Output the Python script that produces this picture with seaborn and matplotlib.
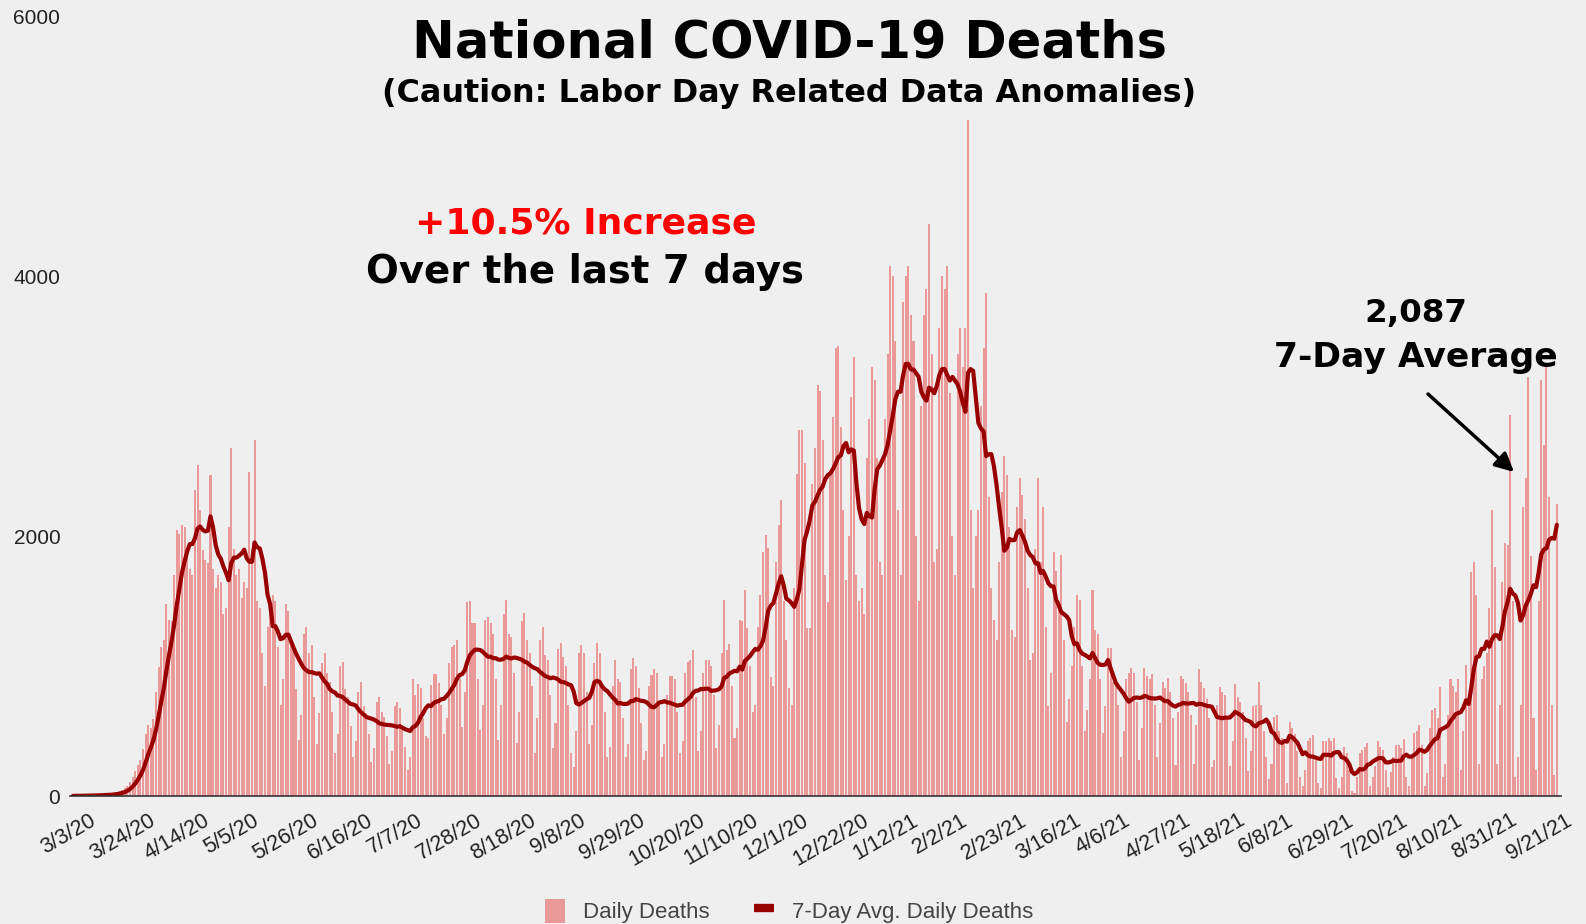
import numpy as np
import pandas as pd
import matplotlib
matplotlib.use("Agg")
import matplotlib.pyplot as plt
import matplotlib.transforms as mtransforms
import seaborn as sns
from matplotlib.patches import Patch
from matplotlib.lines import Line2D

# daily reported deaths, one row per week, starting 3/3/20
daily_deaths = [
    1, 1, 2, 3, 4, 3, 5,
    4, 5, 6, 8, 9, 10, 11,
    12, 15, 20, 28, 35, 45, 60,
    80, 110, 150, 190, 240, 280, 360,
    480, 545, 520, 590, 800, 995, 1150,
    1200, 1480, 1355, 1350, 1700, 2045, 2020,
    2085, 2070, 1900, 1750, 1700, 2355, 2545,
    2200, 1890, 1815, 1790, 2470, 1750, 1600,
    1700, 1650, 1400, 1450, 2070, 2675, 1900,
    1700, 1750, 1525, 1650, 1600, 2495, 1900,
    2740, 1500, 1450, 1100, 850, 1300, 1400,
    1550, 1500, 1150, 700, 900, 1480, 1420,
    1200, 1150, 820, 430, 620, 1250, 1300,
    1100, 1160, 760, 400, 640, 1020, 1100,
    950, 880, 650, 330, 480, 1000, 1030,
    820, 760, 540, 300, 420, 800, 880,
    690, 640, 480, 260, 370, 720, 760,
    650, 610, 460, 250, 350, 690, 720,
    680, 530, 380, 200, 300, 900, 780,
    860, 835, 600, 460, 450, 855, 940,
    940, 870, 700, 480, 600, 1025, 1150,
    1160, 1200, 900, 530, 800, 1495, 1500,
    1330, 1330, 900, 510, 700, 1353, 1380,
    1330, 1250, 900, 430, 700, 1400, 1507,
    1250, 1225, 950, 410, 650, 1350, 1405,
    1200, 1100, 850, 330, 600, 1200, 1300,
    1085, 1050, 780, 370, 560, 1130, 1180,
    1070, 1000, 700, 330, 225, 500, 1100,
    1160, 1100, 800, 400, 550, 1020, 1175,
    1100, 850, 650, 300, 380, 850, 1050,
    900, 880, 600, 300, 400, 980, 1060,
    1000, 830, 560, 280, 350, 850, 930,
    980, 950, 700, 300, 400, 780, 920,
    920, 900, 650, 330, 420, 950, 1033,
    1050, 1120, 760, 350, 500, 950, 1050,
    1050, 1000, 780, 370, 550, 1100, 1507,
    1120, 1170, 850, 450, 520, 1353, 1350,
    1585, 1290, 1000, 650, 700, 1300, 1545,
    1880, 2007, 1905, 917, 850, 1800, 2085,
    2275, 1500, 1200, 830, 700, 1600, 2480,
    2815, 2815, 2560, 1290, 1290, 2400, 2675,
    3160, 3120, 2740, 1700, 1495, 2500, 2915,
    3445, 3460, 2840, 2200, 1660, 2000, 3070,
    3380, 1700, 1500, 1600, 1400, 2600, 2900,
    3300, 3200, 2600, 1800, 1700, 2900, 3400,
    4080, 4000, 3500, 2200, 1700, 3800, 4000,
    4080, 3700, 3500, 2000, 1500, 3000, 3700,
    3900, 4400, 3400, 1800, 1900, 3600, 4000,
    3900, 4080, 3100, 2000, 1700, 3400, 3600,
    3300, 3600, 5200, 2200, 1600, 2000, 2200,
    3000, 3445, 3870, 2300, 1600, 1353, 1200,
    1800, 2340, 2620, 2470, 2070, 1275, 1220,
    2225, 2445, 2320, 2130, 1600, 1045, 1100,
    1900, 2445, 1800, 2225, 1300, 690, 945,
    1880, 1730, 1500, 1855, 1200, 570, 750,
    1000, 1300, 1545, 1510, 1000, 500, 660,
    900, 1585, 1275, 1250, 900, 485, 690,
    1140, 1140, 880, 850, 700, 300, 500,
    900, 950, 985, 950, 720, 280, 520,
    985, 920, 900, 940, 700, 300, 560,
    880, 830, 905, 800, 600, 240, 650,
    920, 900, 870, 800, 620, 250, 550,
    980, 880, 830, 750, 600, 220, 280,
    700, 840, 800, 780, 600, 230, 420,
    860, 760, 720, 650, 450, 190, 350,
    690, 700, 880, 700, 500, 300, 130,
    250, 610, 620, 500, 450, 400, 100,
    570, 520, 480, 350, 150, 80, 200,
    420, 450, 470, 300, 100, 60, 420,
    420, 450, 420, 450, 140, 60, 150,
    380, 330, 200, 40, 20, 150, 330,
    355, 380, 410, 80, 150, 230, 420,
    380, 354, 200, 72, 187, 300, 392,
    392, 369, 438, 148, 80, 300, 484,
    500, 546, 392, 80, 180, 520, 661,
    680, 600, 840, 150, 250, 620, 900,
    850, 800, 900, 200, 500, 1007, 700,
    1725, 1800, 1545, 250, 900, 1000, 1100,
    1445, 2200, 1763, 250, 700, 1648, 1945,
    1930, 2930, 1500, 150, 300, 700, 2225,
    2450, 3225, 1850, 600, 200, 1500, 3200,
    2700, 3300, 2300, 700, 160, 2250,
]

# category labels shown on the x axis (every 21st day)
tick_labels = ['3/3/20', '3/24/20', '4/14/20', '5/5/20', '5/26/20', '6/16/20',
               '7/7/20', '7/28/20', '8/18/20', '9/8/20', '9/29/20', '10/20/20',
               '11/10/20', '12/1/20', '12/22/20', '1/12/21', '2/2/21', '2/23/21',
               '3/16/21', '4/6/21', '4/27/21', '5/18/21', '6/8/21', '6/29/21',
               '7/20/21', '8/10/21', '8/31/21', '9/21/21']
y_ticks = [0, 2000, 4000, 6000]

bar_color = '#ea9999'
line_color = '#990000'
bg = '#efefef'

W, H = 1586, 924


def fx(x):
    return x / W


def fy(y):
    return 1 - y / H


df = pd.DataFrame({'day': np.arange(len(daily_deaths)), 'deaths': daily_deaths})
df['avg'] = df['deaths'].rolling(7, min_periods=1).mean()

sns.set_theme(style='white')
plt.rcParams['font.family'] = ['Liberation Sans', 'DejaVu Sans']

fig = plt.figure(figsize=(W / 100, H / 100), dpi=100, facecolor=bg)
ax = fig.add_axes([fx(70), fy(796), fx(1561) - fx(70), fy(16.4) - fy(796)])
ax.set_facecolor(bg)

sns.barplot(data=df, x='day', y='deaths', native_scale=True, color=bar_color,
            saturation=1, width=0.78, errorbar=None, linewidth=0, ax=ax)
sns.lineplot(data=df, x='day', y='avg', color=line_color, linewidth=3.0, ax=ax)

ax.set_xlim(-1.157, 573.6)
ax.set_ylim(0, 6000)
ax.set_yticks(y_ticks)
ax.set_yticklabels([str(v) for v in y_ticks])
ax.set_xticks(np.arange(len(tick_labels)) * 21)
ax.set_xticklabels(tick_labels, rotation=30, ha='center', va='top')
ax.tick_params(axis='y', length=0, pad=7, labelsize=15, labelcolor='#222222')
ax.tick_params(axis='x', length=0, pad=10, labelsize=15.5, labelcolor='#222222')
shift = mtransforms.ScaledTranslation(-5 / 100, 0, fig.dpi_scale_trans)
for lab in ax.get_xticklabels():
    lab.set_transform(lab.get_transform() + shift)
ax.set_xlabel('')
ax.set_ylabel('')
for s in ['top', 'right', 'left']:
    ax.spines[s].set_visible(False)
ax.spines['bottom'].set_color('#333333')
ax.spines['bottom'].set_linewidth(1.2)
ax.grid(False)

bold = ['DejaVu Sans']
renderer = fig.canvas.get_renderer()


def put_text(x, y, s, width, color='black'):
    # bold text on its baseline, sized to the width it has in the reference
    t = fig.text(fx(x), fy(y), s, ha='center', va='baseline', fontsize=20,
                 fontweight='bold', family=bold, color=color)
    w = t.get_window_extent(renderer=renderer).width
    t.set_fontsize(20 * width / w)
    return t


put_text(789, 57.7, 'National COVID-19 Deaths', 755)
put_text(789, 102, '(Caution: Labor Day Related Data Anomalies)', 815)
put_text(586, 234, '+10.5% Increase', 342, color='#ff0000')
put_text(585, 283, 'Over the last 7 days', 438)
put_text(1416, 322, '2,087', 103)
put_text(1416, 367, '7-Day Average', 283)

ax.annotate('', xy=(1514, H - 472), xytext=(1428, H - 394),
            xycoords='figure pixels', textcoords='figure pixels',
            arrowprops=dict(arrowstyle='-|>', color='black', lw=2.5,
                            mutation_scale=28, shrinkA=0, shrinkB=0))

handles = [Patch(facecolor=bar_color, edgecolor='none'),
           Line2D([0], [0], color=line_color, linewidth=6, solid_capstyle='butt')]
fig.legend(handles, ['Daily Deaths', '7-Day Avg. Daily Deaths'], loc='center',
           bbox_to_anchor=(fx(789), fy(911)), ncol=2, frameon=False, fontsize=16,
           handlelength=0.9, handleheight=1.3, handletextpad=0.8, columnspacing=2.0,
           labelcolor='#444444')

fig.savefig('out.png', dpi=100, facecolor=bg)
